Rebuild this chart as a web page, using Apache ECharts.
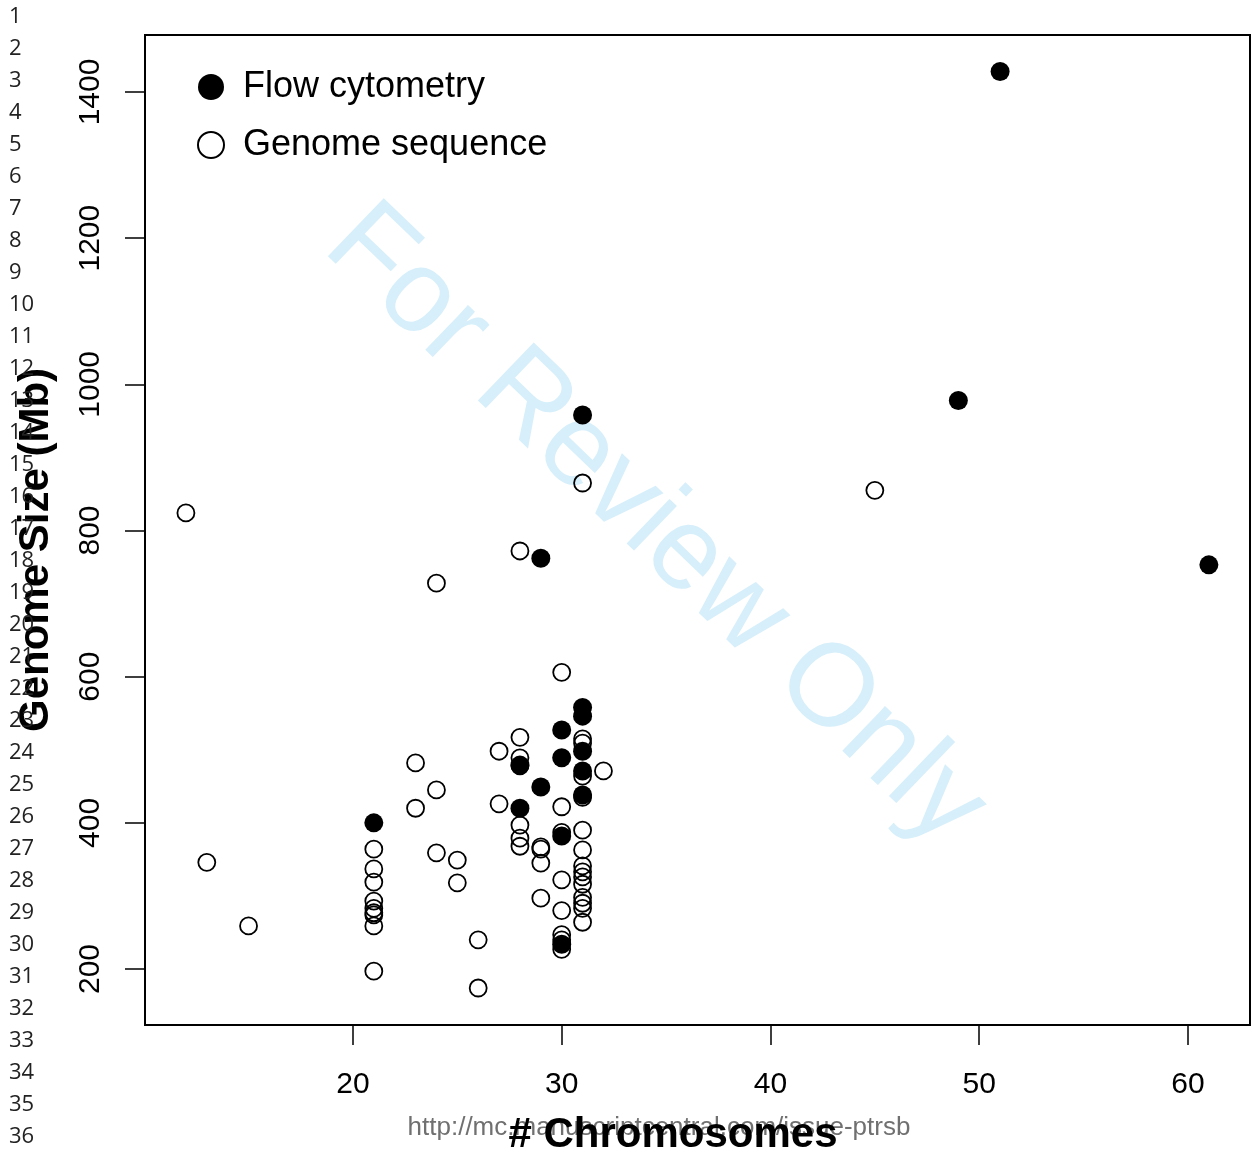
<!DOCTYPE html>
<html lang="en" style="height: 100%">
<head>
    <meta charset="utf-8">
    <title>Genome size vs chromosomes</title>
    <script src="https://cdn.jsdelivr.net/npm/echarts@6/dist/echarts.min.js"></script>
</head>
<body style="height: 100%; margin: 0; background: #fff">
    <div id="main" style="width: 1259px; height: 1153px"></div>
    <script type="text/javascript">
        // Flow cytometry (filled points)
        var flowChrom = [51, 49, 31, 61, 29, 31, 31, 30, 31, 30, 28, 31, 29, 31, 28, 30, 21, 30];
        var flowSize  = [1428, 978, 958, 753, 762, 558, 546, 527, 498, 489, 479, 471, 449, 438, 420, 382, 400, 234];

        // Genome sequence (open points)
        var seqChrom = [12, 13, 15,
                        21, 21, 21, 21, 21, 21, 21, 21, 21,
                        23, 23, 24, 24, 24, 25, 25, 26, 26, 27, 27,
                        28, 28, 28, 28, 28, 28, 28,
                        29, 29, 29, 29,
                        30, 30, 30, 30, 30, 30, 30, 30,
                        31, 31, 31, 31, 31, 31, 31, 31, 31, 31, 31, 31, 31, 31, 31,
                        32, 45];
        var seqSize  = [824, 346, 259,
                        364, 337, 319, 293, 283, 277, 274, 259, 197,
                        482, 420, 728, 445, 359, 349, 318, 240, 174, 498, 426,
                        772, 517, 489, 478, 397, 379, 368,
                        367, 364, 345, 297,
                        606, 422, 387, 322, 280, 247, 240, 227,
                        865, 515, 509, 464, 435, 390, 363, 341, 333, 326, 316, 298, 290, 283, 264,
                        471, 855];

        var xTicks = [20, 30, 40, 50, 60];
        var yTicks = [200, 400, 600, 800, 1000, 1200, 1400];
        var lineNumbers = ['1','2','3','4','5','6','7','8','9','10','11','12','13','14','15','16','17','18',
                           '19','20','21','22','23','24','25','26','27','28','29','30','31','32','33','34','35','36'];

        var font = 'Liberation Sans, Arial, Helvetica, sans-serif';

        function pairs(xs, ys) {
            return xs.map(function (x, i) { return [x, ys[i]]; });
        }

        // margin line numbers
        var graphics = lineNumbers.map(function (t, i) {
            return {
                type: 'text', left: 9, top: 15 + i * 32 - 9, z: 10,
                style: { text: t, font: '22px "Open Sans", sans-serif', fill: '#222' }
            };
        });
        // watermark
        graphics.push({
            type: 'text', x: 655, y: 526, rotation: -0.766, z: 0,
            style: { text: 'For Review Only', font: '117px ' + font, fill: '#d6effa',
                     align: 'center', verticalAlign: 'middle' }
        });
        graphics.push({
            type: 'text', x: 659, y: 1128, z: 5,
            style: { text: 'http://mc.manuscriptcentral.com/issue-ptrsb', font: '26px ' + font, fill: '#707070',
                     align: 'center', verticalAlign: 'middle' }
        });
        graphics.push({
            type: 'text', x: 673, y: 1135, z: 6,
            style: { text: '# Chromosomes', font: 'bold 42px ' + font, fill: '#000',
                     align: 'center', verticalAlign: 'middle' }
        });
        graphics.push({
            type: 'text', x: 36, y: 550, rotation: Math.PI / 2, z: 6,
            style: { text: 'Genome Size (Mb)', font: 'bold 42px ' + font, fill: '#000',
                     align: 'center', verticalAlign: 'middle' }
        });

        var myChart = echarts.init(document.getElementById('main'));
        var option = {
            animation: false,
            backgroundColor: '#fff',
            grid: {
                left: 145, right: 9, top: 35, bottom: 128,
                show: true, borderColor: '#000', borderWidth: 2, backgroundColor: 'transparent'
            },
            legend: {
                left: 197, top: 69, orient: 'vertical', padding: 0,
                itemWidth: 26, itemHeight: 26, itemGap: 22,
                textStyle: { fontFamily: font, fontSize: 36, color: '#000', padding: [0, 0, 0, 14] },
                data: ['Flow cytometry', 'Genome sequence']
            },
            xAxis: {
                type: 'value', min: 10.04, max: 62.97,
                splitLine: { show: false },
                axisLine: { show: false },
                axisTick: { show: true, length: 20, inside: false, customValues: xTicks,
                            lineStyle: { color: '#000', width: 1.5 } },
                axisLabel: { customValues: xTicks, margin: 45, fontFamily: font, fontSize: 30, color: '#000' }
            },
            yAxis: {
                type: 'value', min: 123.4, max: 1478,
                splitLine: { show: false },
                axisLine: { show: false },
                axisTick: { show: true, length: 20, inside: false, customValues: yTicks,
                            lineStyle: { color: '#000', width: 1.5 } },
                axisLabel: { customValues: yTicks, rotate: 90, margin: 54, fontFamily: font, fontSize: 30,
                             color: '#000', verticalAlign: 'middle',
                             formatter: function (v) { return String(v); } }
            },
            graphic: graphics,
            series: [
                {
                    name: 'Genome sequence', type: 'scatter', symbol: 'circle', symbolSize: 17,
                    data: pairs(seqChrom, seqSize),
                    itemStyle: { color: 'rgba(255,255,255,0)', borderColor: '#000', borderWidth: 1.8, opacity: 1 },
                    z: 3
                },
                {
                    name: 'Flow cytometry', type: 'scatter', symbol: 'circle', symbolSize: 19,
                    data: pairs(flowChrom, flowSize),
                    itemStyle: { color: '#000', opacity: 1 },
                    z: 4
                }
            ]
        };
        myChart.setOption(option);
    </script>
</body>
</html>
